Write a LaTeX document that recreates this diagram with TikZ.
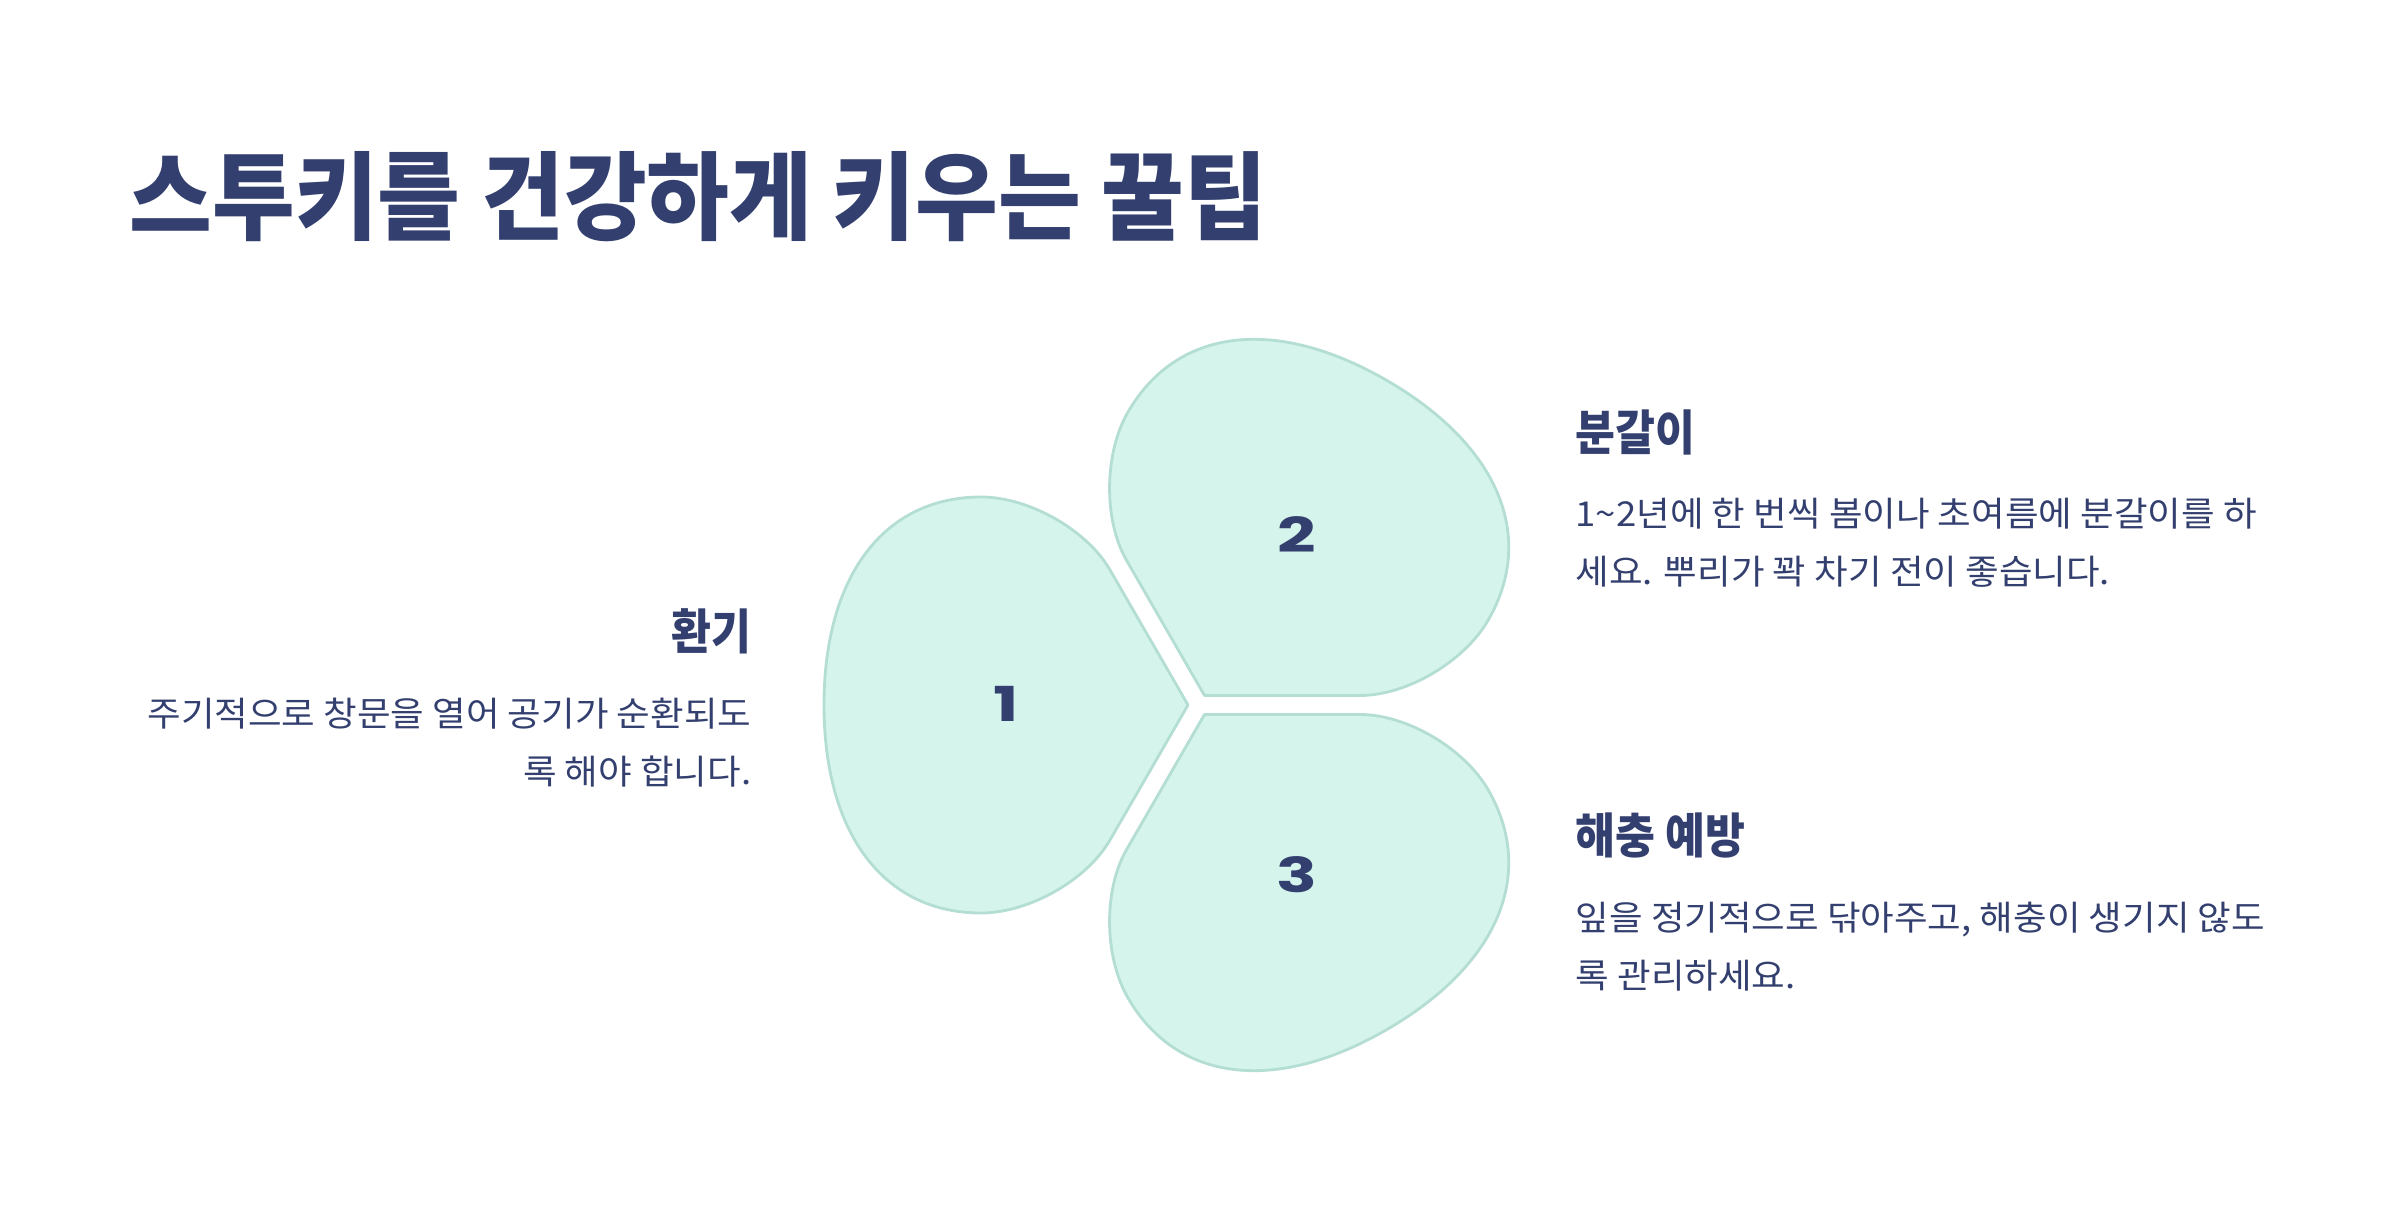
\documentclass[tikz,border=0pt]{standalone}
\usepackage{fontspec}
\newfontfamily\krtitle{Noto Sans CJK KR}[FakeStretch=0.937]
\newfontfamily\krhead{Noto Sans CJK KR}[FakeStretch=0.9]
\newfontfamily\krbody{Noto Sans CJK KR}[FakeStretch=1.065]
\newfontfamily\numfont{Poppins}[FakeStretch=1.4]
\definecolor{navy}{HTML}{33406F}
\definecolor{petalfill}{HTML}{D5F4EC}
\definecolor{petalline}{HTML}{B4DED3}
\begin{document}
\begin{tikzpicture}[x=0.01cm,y=0.01cm,
  petal/.style={fill=petalfill, draw=petalline, line width=0.8pt, line join=round},
  titletext/.style={inner sep=0pt, text=navy, font=\krtitle\bfseries\fontsize{27.3pt}{32pt}\selectfont},
  headtext/.style={inner sep=0pt, text=navy, font=\krhead\bfseries\fontsize{13.7pt}{16pt}\selectfont},
  bodytext/.style={inner sep=0pt, text=navy, font=\krbody\fontsize{9.75pt}{16.5pt}\selectfont},
  numtext/.style={inner sep=0pt, text=navy, font=\numfont\bfseries\fontsize{13.7pt}{16pt}\selectfont},
  petalshape/.pic={\path[petal] (0,0) -- (-78,135)
      .. controls (-101,175) and (-159,208) .. (-207,208)
      .. controls (-304,208) and (-364,129) .. (-364,0)
      .. controls (-364,-129) and (-304,-208) .. (-207,-208)
      .. controls (-159,-208) and (-101,-175) .. (-78,-135) -- cycle;}
]
\useasboundingbox (0,0) rectangle (2400,1221);
\fill[white] (0,0) rectangle (2400,1221);

% title
\node[titletext, anchor=base west] (title) at (129,988) {스투키를 건강하게 키우는 꿀팁};

% petals
\pic at (1188,516) {petalshape};
\pic[rotate=-120] at (1204.5,525.5) {petalshape};
\pic[rotate=120] at (1204.5,506.5) {petalshape};

\node[numtext] (n1) at (1006,517) {1};
\node[numtext] (n2) at (1296.5,686) {2};
\node[numtext] (n3) at (1296.5,346) {3};

% left block
\node[headtext, anchor=base east] (h1) at (752,571) {환기};
\node[bodytext, anchor=base east] (b1a) at (752,494) {주기적으로 창문을 열어 공기가 순환되도};
\node[bodytext, anchor=base east] (b1b) at (752,436) {록 해야 합니다.};

% right top block
\node[headtext, anchor=base west] (h2) at (1575,770) {분갈이};
\node[bodytext, anchor=base west] (b2a) at (1575,694) {1\textasciitilde2년에 한 번씩 봄이나 초여름에 분갈이를 하};
\node[bodytext, anchor=base west] (b2b) at (1575,636) {세요. 뿌리가 꽉 차기 전이 좋습니다.};

% right bottom block
\node[headtext, anchor=base west] (h3) at (1575,367) {해충 예방};
\node[bodytext, anchor=base west] (b3a) at (1575,290) {잎을 정기적으로 닦아주고, 해충이 생기지 않도};
\node[bodytext, anchor=base west] (b3b) at (1575,232) {록 관리하세요.};
\end{tikzpicture}
\end{document}
